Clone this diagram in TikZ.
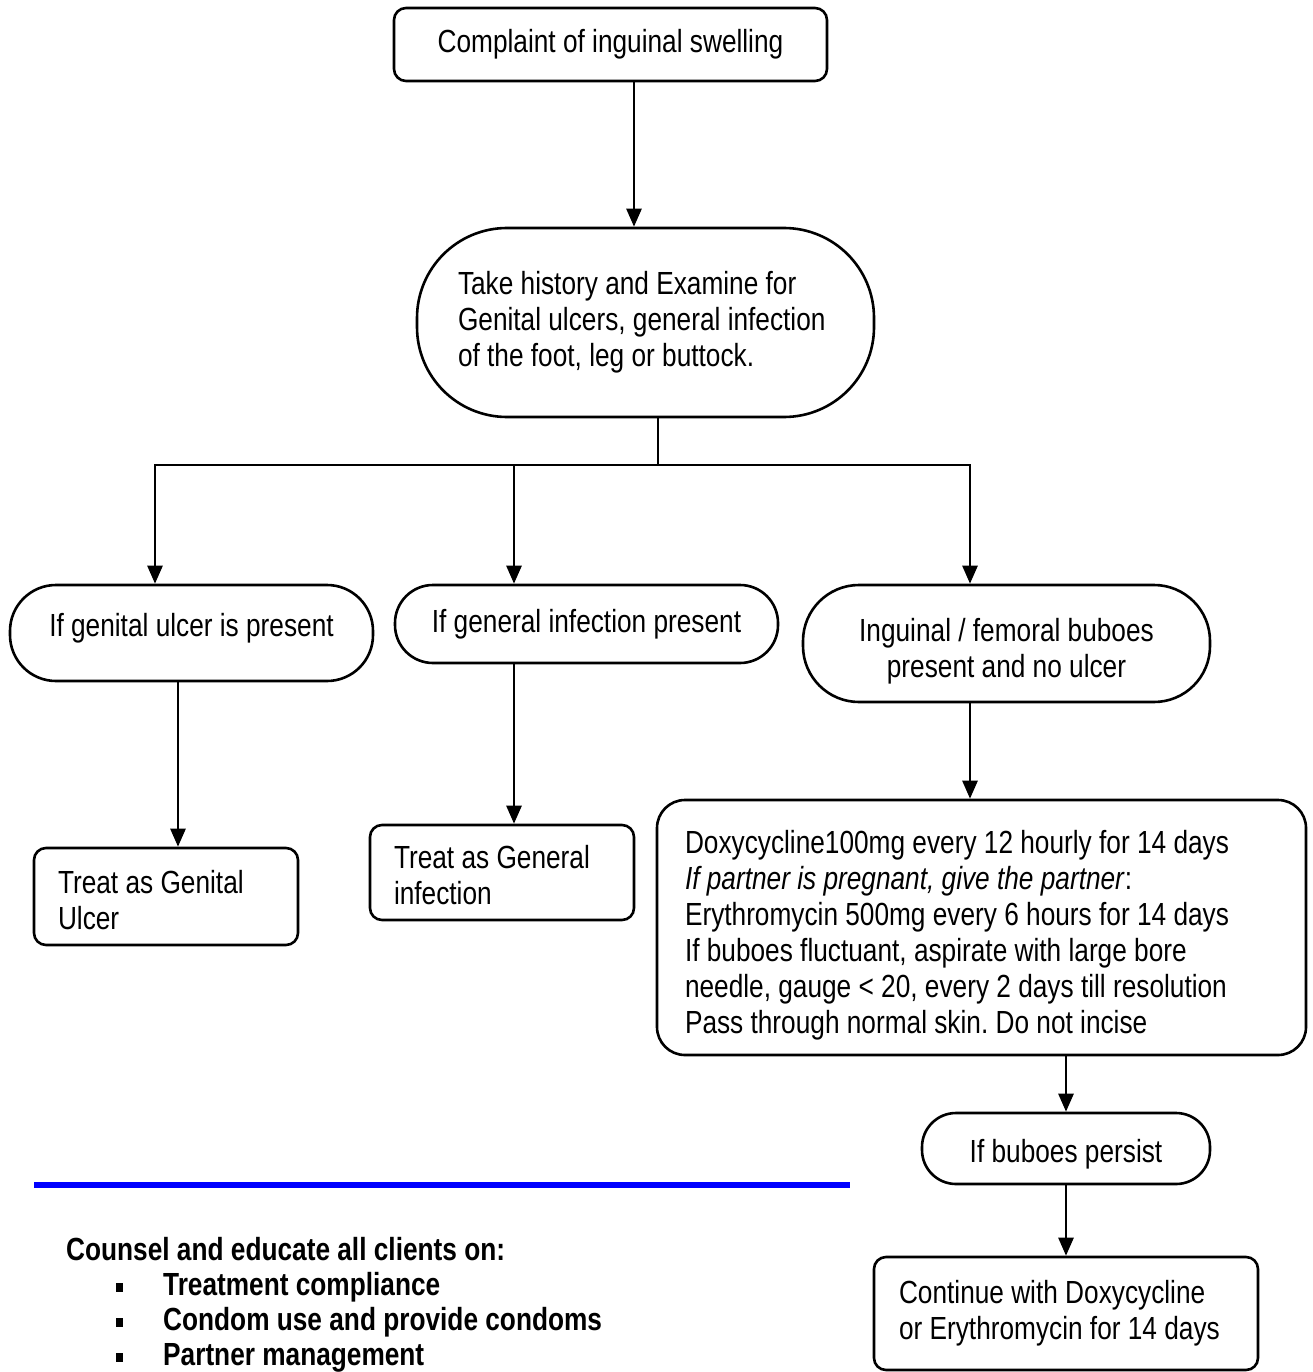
\documentclass[tikz,border=0pt]{standalone}
\usepackage{fontspec}
\setmainfont{Liberation Sans}[FakeStretch=0.82]
\usetikzlibrary{arrows.meta}
\newcommand\topstrut[1]{\rule{0pt}{#1}}
\frenchspacing
\begin{document}
\frenchspacing
\begin{tikzpicture}[x=1pt,y=-1pt,
  every node/.style={font=\fontsize{32}{36}\selectfont},
  box/.style={draw, line width=2.6pt, rounded corners=12pt, inner ysep=0pt, align=flush left},
  arr/.style={line width=2.6pt, -{Triangle[length=18pt,width=15pt]}},
  ln/.style={line width=2.6pt},
  counsel/.style={font=\fontsize{32}{35}\selectfont\bfseries, inner sep=0pt, anchor=base west},
  bul/.style={fill, inner sep=0pt, minimum width=7pt, minimum height=9pt}]
\useasboundingbox (0,0) rectangle (1313,1372);
% nodes
\node[box, align=center, inner xsep=0pt, minimum width=433pt, minimum height=73pt] (top) at (610.5,44.5) {Complaint of inguinal swelling};
\node[box, rounded corners=90pt, inner xsep=41pt, text width=375pt, minimum height=189pt] (exam) at (645.5,322.5)
  {\mbox{Take history and Examine for}\\\mbox{Genital ulcers, general infection}\\\mbox{of the foot, leg or buttock.}};
\node[box, align=center, rounded corners=46pt, inner xsep=0pt, minimum width=363pt, minimum height=96pt, text depth=16pt] (ova) at (191.5,633) {If genital ulcer is present};
\node[box, align=center, rounded corners=38pt, inner xsep=0pt, minimum width=383pt, minimum height=78pt] (ovb) at (586.5,624) {If general infection present};
\node[box, align=center, rounded corners=56pt, inner xsep=0pt, minimum width=407pt, minimum height=117pt] (ovc) at (1006.5,643.5) {\topstrut{38pt}Inguinal / femoral buboes\\present and no ulcer};
\node[box, inner xsep=24pt, text width=216pt, minimum height=97pt] (gu) at (166,896.5) {\topstrut{30pt}\mbox{Treat as Genital}\\Ulcer};
\node[box, inner xsep=24pt, text width=216pt, minimum height=95pt] (gi) at (502,872.5) {\topstrut{29pt}\mbox{Treat as General}\\infection};
\node[box, rounded corners=28pt, inner xsep=28pt, text width=593pt, minimum height=255pt] (doxy) at (981.5,927.5)
  {\topstrut{38pt}\mbox{Doxycycline100mg every 12 hourly for 14 days}\\
   \mbox{\textit{If partner is pregnant, give the partner}:}\\
   \mbox{Erythromycin 500mg every 6 hours for 14 days}\\
   \mbox{If buboes fluctuant, aspirate with large bore}\\
   \mbox{needle, gauge < 20, every 2 days till resolution}\\
   \mbox{Pass through normal skin. Do not incise}};
\node[box, align=center, rounded corners=34pt, inner xsep=0pt, minimum width=288pt, minimum height=71pt] (persist) at (1066,1148.5) {\topstrut{34pt}If buboes persist};
\node[box, inner xsep=25pt, text width=334pt, minimum height=113pt] (final) at (1066,1313.5) {\mbox{Continue with Doxycycline}\\\mbox{or Erythromycin for 14 days}};
% coordinates
\coordinate (ta) at (634,0);
\coordinate (jc) at (658,465);
\coordinate (jl) at (155,465);
\coordinate (jm) at (514,465);
\coordinate (jr) at (970,465);
\coordinate (xa) at (178,0);
% connectors
\draw[arr] (top.south -| ta) -- (exam.north -| ta);
\draw[ln] (exam.south -| jc) -- (jc);
\draw[ln, line cap=rect] (jl) -- (jr);
\draw[arr] (jl) -- (ova.north -| jl);
\draw[arr] (jm) -- (ovb.north -| jm);
\draw[arr] (jr) -- (ovc.north -| jr);
\draw[arr] (ova.south -| xa) -- (gu.north -| xa);
\draw[arr] (ovb.south -| jm) -- (gi.north -| jm);
\draw[arr] (ovc.south -| jr) -- (doxy.north -| jr);
\draw[arr] (doxy.south -| persist) -- (persist.north);
\draw[arr] (persist.south) -- (final.north);
% blue rule
\coordinate (bl) at (34,1185);
\coordinate (br) at (850,1185);
\draw[blue, line width=6pt] (bl) -- (br);
% counsel text
\node[counsel] (c0) at (66,1260) {Counsel and educate all clients on:};
\node[counsel] (c1) at (163,1295) {Treatment compliance};
\node[counsel] (c2) at (163,1330) {Condom use and provide condoms};
\node[counsel] (c3) at (163,1365) {Partner management};
\node[bul] (b1) at (119.5,1287.5) {};
\node[bul] (b2) at (119.5,1322) {};
\node[bul] (b3) at (119.5,1357) {};
\end{tikzpicture}
\end{document}
